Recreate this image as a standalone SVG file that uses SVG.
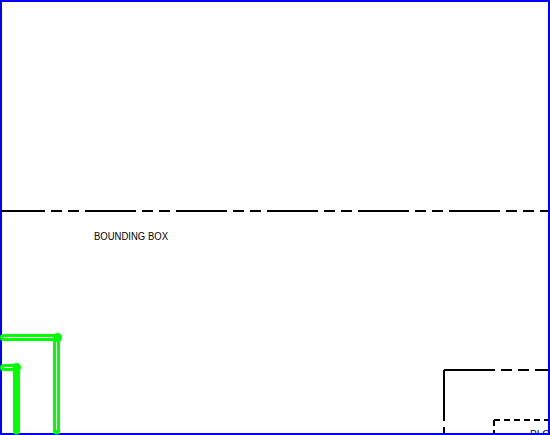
<svg xmlns="http://www.w3.org/2000/svg" width="550" height="435" viewBox="0 0 550 435">
<style>
.dl{fill:none;stroke:#000;stroke-width:2;stroke-dasharray:51 6 11 6 11 6}
.in{fill:none;stroke:#000;stroke-width:2;stroke-dasharray:6 4}
.gr{fill:none;stroke:#0f0;stroke-width:7;stroke-linecap:round;stroke-linejoin:round}
.dot{fill:#0f0}
.wh{fill:none;stroke:#fff;stroke-width:1}
text{font-family:"Liberation Sans",Arial,sans-serif;font-size:10px;fill:#000}
</style>
<rect width="550" height="435" fill="#fff"/>
<text id="label-bbox" x="94" y="240" textLength="74" lengthAdjust="spacingAndGlyphs">BOUNDING BOX</text>
<text id="label-pl" x="530" y="438">PLOT</text>
<rect id="border" x="1" y="1" width="548" height="433" fill="none" stroke="#00f" stroke-width="2"/>
<g id="connectors">
<line class="dl" x1="2" y1="211" x2="548" y2="211" stroke-dashoffset="8"/>
<path class="gr" d="M3.500 337.500H56.500V431"/>
<circle class="dot" cx="57.500" cy="337.500" r="4.500"/>
<path class="wh" d="M3 337.500H53"/>
<path class="wh" d="M56.500 342V430"/>
<path class="gr" d="M3.500 367.500H16.500V431"/>
<circle class="dot" cx="16.500" cy="367.500" r="4.500"/>
<path class="wh" d="M3 367.500H13"/>
<path class="dl" d="M444 370H548"/>
<path class="dl" d="M444 370V433"/>
<path class="in" d="M494 420H548"/>
<path class="in" d="M494 420V433"/>
</g>
</svg>
